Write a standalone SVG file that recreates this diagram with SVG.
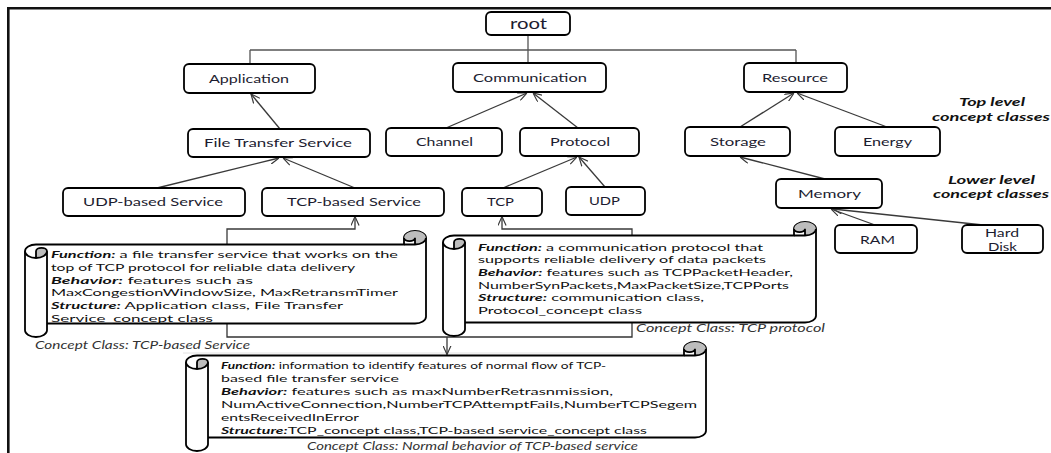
<svg xmlns="http://www.w3.org/2000/svg" xmlns:xlink="http://www.w3.org/1999/xlink" width="1051" height="453" viewBox="0 0 1051 453">
  <style>
    .frame { fill: none; stroke: #111; stroke-width: 2.6; }
    .box { fill: #fff; stroke: #000; stroke-width: 1.8; }
    .lbl { font-family: Lato, "Liberation Sans", sans-serif; font-size: 12px; fill: #1c1c30; }
    .big { font-size: 16px; }
    .lvl { font-family: Lato, "Liberation Sans", sans-serif; font-size: 11.5px; font-weight: bold; font-style: italic; fill: #111; }
    .st { font-family: Lato, "Liberation Sans", sans-serif; font-size: 10px; fill: #111; }
    .sm { font-size: 9.5px; }
    .k { font-weight: bold; font-style: italic; }
    .cap { font-family: Lato, "Liberation Sans", sans-serif; font-size: 10.5px; font-style: italic; fill: #333; }
    .tree { fill: none; stroke: #555; stroke-width: 1.3; }
    .edge { fill: none; stroke: #3a3a3a; stroke-width: 1.3; marker-end: url(#open); }
    .link { fill: none; stroke: #333; stroke-width: 1.3; }
    .scroll { fill: #fff; stroke: #000; stroke-width: 1.8; stroke-linejoin: round; }
    .curl { fill: none; stroke: #000; stroke-width: 1.8; }
    .shade { fill: #bdbdbd; stroke: none; }
  </style>
  <defs>
    <marker id="open" viewBox="0 0 10 10" refX="10" refY="5" markerWidth="9" markerHeight="9" markerUnits="userSpaceOnUse" orient="auto">
      <path d="M0,0.5 L10,5 L0,9.5" fill="none" stroke="#3a3a3a" stroke-width="1.3"/>
    </marker>
    <!-- top-right curl of a horizontal scroll, origin at (right, top) -->
    <g id="curlR">
      <path class="shade" d="M-11,13.5 A11,6.75 0 1 0 -22,6.75 A5.5,3.375 0 0 0 -11,6.75 Z"/>
      <path class="curl" d="M-22,13.5 L-11,13.5 A11,6.75 0 0 0 0,6.75 M-11,13.5 L-11,6.75 A5.5,3.375 0 0 1 -22,6.75"/>
    </g>
    <!-- top of the left roll, origin at (left, top) -->
    <g id="rollL">
      <path class="shade" d="M11,27 A11,6.75 0 0 0 22,20.25 A5.5,3.375 0 0 0 11,20.25 Z"/>
      <path class="curl" d="M11,27 L11,20.25 A5.5,3.375 0 0 1 22,20.25 A11,6.75 0 0 1 0,20.25"/>
    </g>
  </defs>

  <rect width="1051" height="453" fill="#fff"/>
  <!-- frame -->
  <path class="frame" d="M8.3,453 V8.3 H1051"/>
  <line x1="183" y1="353" x2="684" y2="353" stroke="#e2e2e2" stroke-width="1"/>

  <!-- connectors -->
  <g id="connectors">
    <path class="tree" d="M528,35 V50 M250,50 H796 M250,50 V64 M528,50 V63 M796,50 V63"/>
    <path class="edge" d="M280,129 L251,94"/>
    <path class="edge" d="M157,188 L279,158"/>
    <path class="edge" d="M355,188 L283,158"/>
    <path class="edge" d="M446,128 L527,93"/>
    <path class="edge" d="M578,128 L533,93"/>
    <path class="edge" d="M503,188 L577,157"/>
    <path class="edge" d="M605,187 L579,157"/>
    <path class="edge" d="M740,127 L794,93"/>
    <path class="edge" d="M887,127 L797,93"/>
    <path class="edge" d="M825,179 L740,157"/>
    <path class="edge" d="M875,225 L831,209"/>
    <path class="edge" d="M983,225 L833,209"/>
    <path class="edge" d="M227,244.5 V229 H355 V216.5"/>
    <path class="edge" d="M632,235.5 V229 H502 V216.5"/>
    <path class="link" d="M227,323.5 V337 H632 V322.5"/>
    <path class="edge" d="M447,337 V354.5"/>
  </g>

  <!-- class tree nodes -->
  <g id="root"><rect class="box" x="486" y="12" width="84" height="23" rx="5"/><text class="lbl big" x="510" y="29" textLength="37" lengthAdjust="spacingAndGlyphs">root</text></g>
  <g id="application"><rect class="box" x="184" y="64" width="131" height="29" rx="5"/><text class="lbl" x="209" y="83" textLength="80" lengthAdjust="spacingAndGlyphs">Application</text></g>
  <g id="communication"><rect class="box" x="453" y="63" width="153" height="29" rx="5"/><text class="lbl" x="473" y="82" textLength="114" lengthAdjust="spacingAndGlyphs">Communication</text></g>
  <g id="resource"><rect class="box" x="744" y="63" width="103" height="29" rx="5"/><text class="lbl" x="762" y="82" textLength="66" lengthAdjust="spacingAndGlyphs">Resource</text></g>
  <g id="file-transfer-service"><rect class="box" x="188" y="129" width="182" height="28" rx="5"/><text class="lbl" x="204" y="147" textLength="148" lengthAdjust="spacingAndGlyphs">File Transfer Service</text></g>
  <g id="channel"><rect class="box" x="386" y="128" width="116" height="28" rx="5"/><text class="lbl" x="416" y="146" textLength="57" lengthAdjust="spacingAndGlyphs">Channel</text></g>
  <g id="protocol"><rect class="box" x="520" y="128" width="119" height="28" rx="5"/><text class="lbl" x="550" y="146" textLength="60" lengthAdjust="spacingAndGlyphs">Protocol</text></g>
  <g id="storage"><rect class="box" x="685" y="127" width="105" height="29" rx="5"/><text class="lbl" x="710" y="146" textLength="56" lengthAdjust="spacingAndGlyphs">Storage</text></g>
  <g id="energy"><rect class="box" x="835" y="127" width="105" height="29" rx="5"/><text class="lbl" x="863" y="146" textLength="49" lengthAdjust="spacingAndGlyphs">Energy</text></g>
  <g id="udp-based-service"><rect class="box" x="63" y="188" width="182" height="28" rx="5"/><text class="lbl" x="83" y="206" textLength="140" lengthAdjust="spacingAndGlyphs">UDP-based  Service</text></g>
  <g id="tcp-based-service"><rect class="box" x="262" y="188" width="182" height="28" rx="5"/><text class="lbl" x="287" y="206" textLength="134" lengthAdjust="spacingAndGlyphs">TCP-based  Service</text></g>
  <g id="tcp"><rect class="box" x="462" y="188" width="80" height="28" rx="5"/><text class="lbl" x="487" y="206" textLength="27" lengthAdjust="spacingAndGlyphs">TCP</text></g>
  <g id="udp"><rect class="box" x="566" y="187" width="79" height="28" rx="5"/><text class="lbl" x="589" y="205" textLength="31" lengthAdjust="spacingAndGlyphs">UDP</text></g>
  <g id="memory"><rect class="box" x="776" y="179" width="106" height="29" rx="5"/><text class="lbl" x="798" y="198" textLength="63" lengthAdjust="spacingAndGlyphs">Memory</text></g>
  <g id="ram"><rect class="box" x="835" y="225" width="82" height="28" rx="5"/><text class="lbl" x="860" y="244" textLength="35" lengthAdjust="spacingAndGlyphs">RAM</text></g>
  <g id="hard-disk"><rect class="box" x="962" y="225" width="81" height="28" rx="5"/><text class="lbl" x="985" y="237" textLength="34" lengthAdjust="spacingAndGlyphs">Hard</text><text class="lbl" x="988" y="251" textLength="29" lengthAdjust="spacingAndGlyphs">Disk</text></g>

  <!-- level captions -->
  <g id="top-level-caption">
    <text class="lvl" x="959" y="106" textLength="66" lengthAdjust="spacingAndGlyphs">Top  level</text>
    <text class="lvl" x="932" y="121" textLength="118" lengthAdjust="spacingAndGlyphs">concept  classes</text>
  </g>
  <g id="lower-level-caption">
    <text class="lvl" x="948" y="184" textLength="87" lengthAdjust="spacingAndGlyphs">Lower  level</text>
    <text class="lvl" x="933" y="198" textLength="116" lengthAdjust="spacingAndGlyphs">concept  classes</text>
  </g>

  <!-- concept class scroll: TCP-based service -->
  <g id="concept-tcp-based-service">
    <path class="scroll" d="M25,251.25 A11,6.75 0 0 1 36,244.5 L404,244.5 L404,237.75 A11,6.75 0 0 1 426,237.75 L426,316.75 A11,6.75 0 0 1 415,323.5 L47,323.5 L47,330.25 A11,6.75 0 0 1 25,330.25 Z M47,251.25 L47,323.5"/>
    <use xlink:href="#curlR" transform="translate(426,231)"/>
    <use xlink:href="#rollL" transform="translate(25,231)"/>
    <text class="st" x="51" y="258" textLength="347" lengthAdjust="spacingAndGlyphs"><tspan class="k">Function:</tspan> a file transfer service that works on the</text>
    <text class="st" x="51" y="270.8" textLength="304" lengthAdjust="spacingAndGlyphs">top of TCP protocol for reliable data delivery</text>
    <text class="st" x="51" y="283.6" textLength="202" lengthAdjust="spacingAndGlyphs"><tspan class="k">Behavior:</tspan> features such as</text>
    <text class="st" x="51" y="296.4" textLength="347" lengthAdjust="spacingAndGlyphs">MaxCongestionWindowSize, MaxRetransmTimer</text>
    <text class="st" x="51" y="309.2" textLength="292" lengthAdjust="spacingAndGlyphs"><tspan class="k">Structure:</tspan> Application class, File Transfer</text>
    <text class="st" x="51" y="322" textLength="162" lengthAdjust="spacingAndGlyphs">Service_concept class</text>
    <text class="cap" x="35" y="349" textLength="215" lengthAdjust="spacingAndGlyphs">Concept Class: TCP-based Service</text>
  </g>

  <!-- concept class scroll: TCP protocol -->
  <g id="concept-tcp-protocol">
    <path class="scroll" d="M443,242.25 A11,6.75 0 0 1 454,235.5 L794,235.5 L794,228.75 A11,6.75 0 0 1 816,228.75 L816,315.75 A11,6.75 0 0 1 805,322.5 L465,322.5 L465,329.25 A11,6.75 0 0 1 443,329.25 Z M465,242.25 L465,322.5"/>
    <use xlink:href="#curlR" transform="translate(816,222)"/>
    <use xlink:href="#rollL" transform="translate(443,222)"/>
    <text class="st" x="478" y="250.7" textLength="285" lengthAdjust="spacingAndGlyphs"><tspan class="k">Function:</tspan> a communication protocol that</text>
    <text class="st" x="478" y="263.3" textLength="288" lengthAdjust="spacingAndGlyphs">supports reliable delivery of data packets</text>
    <text class="st" x="478" y="276" textLength="315" lengthAdjust="spacingAndGlyphs"><tspan class="k">Behavior:</tspan> features such as TCPPacketHeader,</text>
    <text class="st" x="478" y="288.6" textLength="311" lengthAdjust="spacingAndGlyphs">NumberSynPackets,MaxPacketSize,TCPPorts</text>
    <text class="st" x="478" y="301.3" textLength="226" lengthAdjust="spacingAndGlyphs"><tspan class="k">Structure:</tspan> communication class,</text>
    <text class="st" x="478" y="313.9" textLength="164" lengthAdjust="spacingAndGlyphs">Protocol_concept class</text>
    <text class="cap" x="636" y="332" textLength="189" lengthAdjust="spacingAndGlyphs">Concept Class: TCP protocol</text>
  </g>

  <!-- concept class scroll: normal behavior of TCP-based service -->
  <g id="concept-normal-behavior">
    <path class="scroll" d="M186,362.25 A11,6.75 0 0 1 197,355.5 L684,355.5 L684,348.75 A11,6.75 0 0 1 706,348.75 L706,430.75 A11,6.75 0 0 1 695,437.5 L208,437.5 L208,444.25 A11,6.75 0 0 1 186,444.25 Z M208,362.25 L208,437.5"/>
    <use xlink:href="#curlR" transform="translate(706,342)"/>
    <use xlink:href="#rollL" transform="translate(186,342)"/>
    <text class="st sm" x="221" y="369" textLength="385" lengthAdjust="spacingAndGlyphs"><tspan class="k">Function:</tspan> information to identify features of normal flow of TCP-</text>
    <text class="st" x="221" y="382" textLength="178" lengthAdjust="spacingAndGlyphs">based file transfer service</text>
    <text class="st" x="221" y="395" textLength="392" lengthAdjust="spacingAndGlyphs"><tspan class="k">Behavior:</tspan> features such as maxNumberRetrasnmission,</text>
    <text class="st" x="221" y="408" textLength="476" lengthAdjust="spacingAndGlyphs">NumActiveConnection,NumberTCPAttemptFails,NumberTCPSegem</text>
    <text class="st" x="221" y="421" textLength="138" lengthAdjust="spacingAndGlyphs">entsReceivedInError</text>
    <text class="st" x="221" y="434" textLength="426" lengthAdjust="spacingAndGlyphs"><tspan class="k">Structure:</tspan>TCP_concept class,TCP-based service_concept class</text>
    <text class="cap" x="307" y="450" textLength="331" lengthAdjust="spacingAndGlyphs">Concept Class: Normal behavior of TCP-based service</text>
  </g>
</svg>
